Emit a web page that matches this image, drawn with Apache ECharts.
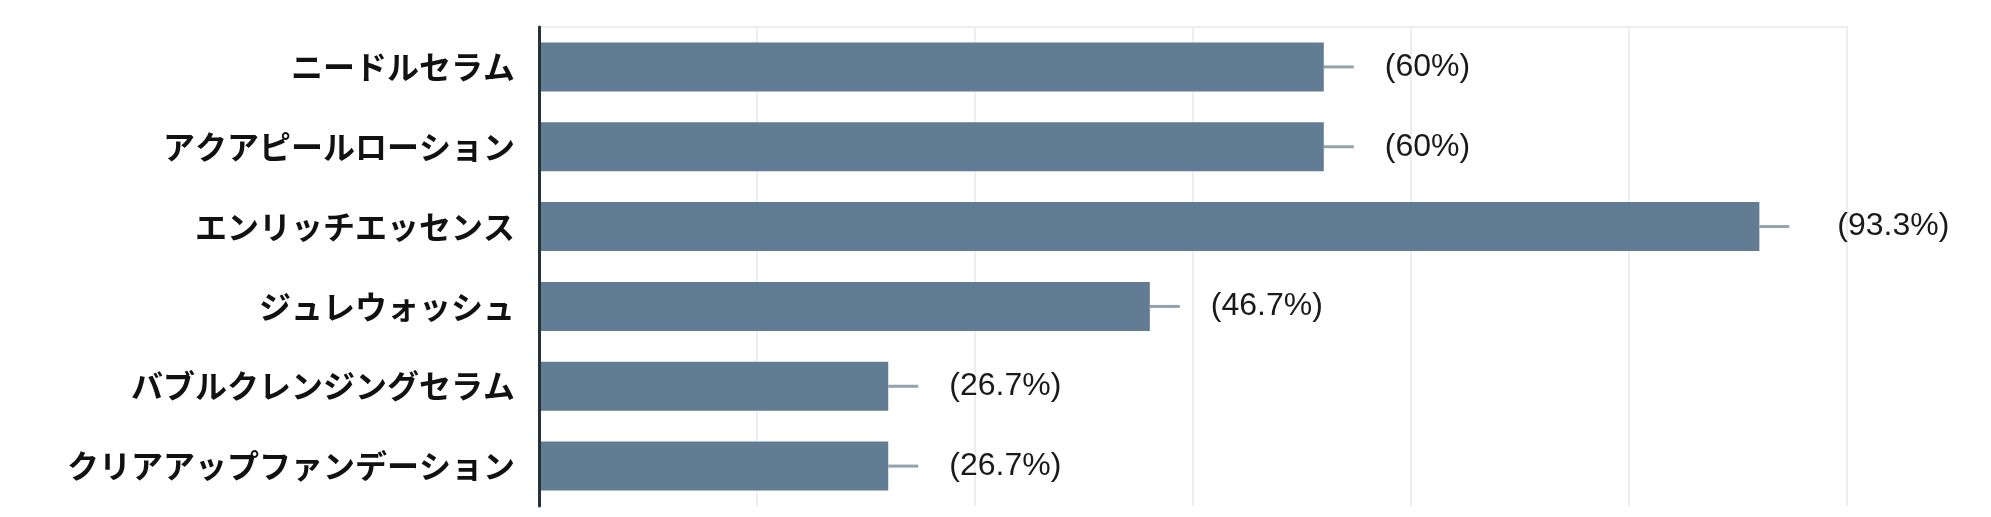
<!DOCTYPE html>
<html>
<head>
<meta charset="utf-8">
<script src="https://cdn.jsdelivr.net/npm/echarts@6/dist/echarts.min.js"></script>
<style>
  html, body { margin: 0; padding: 0; background: #fff; }
  #chart { width: 1991px; height: 517px; }
</style>
</head>
<body>
<div id="chart"></div>
<script>
// 商品カテゴリ（上から順）
const categories = [
  "ニードルセラム",
  "アクアピールローション",
  "エンリッチエッセンス",
  "ジュレウォッシュ",
  "バブルクレンジングセラム",
  "クリアアップファンデーション"
];
// 割合 (%)
const values = [60, 60, 93.3, 46.7, 26.7, 26.7];

const axisMax = 100;
const axisInterval = 100 / 6;

const myChart = echarts.init(document.getElementById("chart"));
myChart.setOption({
  animation: false,
  grid: {
    left: 539,
    right: 144,
    top: 27,
    bottom: 11
  },
  xAxis: {
    type: "value",
    position: "top",
    min: 0,
    max: axisMax,
    interval: axisInterval,
    axisLabel: { show: false },
    axisTick: { show: false },
    axisLine: { show: true, lineStyle: { color: "#eceff1", width: 2 } },
    splitLine: { show: true, lineStyle: { color: "#eceff1", width: 2 } }
  },
  yAxis: {
    type: "category",
    inverse: true,
    data: categories,
    axisTick: { show: false },
    axisLine: { show: true, lineStyle: { color: "#263238", width: 3 } },
    axisLabel: {
      margin: 24,
      fontSize: 32,
      fontWeight: "bold",
      color: "#111",
      fontFamily: "Noto Sans CJK JP"
    },
    z: 5
  },
  series: [
    {
      type: "bar",
      // 一番長いバーのラベルは少し右に離れている
      data: values.map((v) => (v > 90 ? { value: v, label: { distance: 78 } } : v)),
      barCategoryGap: "38.6%",
      itemStyle: { color: "#627d93" },
      label: {
        show: true,
        position: "right",
        distance: 61,
        fontSize: 32,
        color: "#1a1a1a",
        fontFamily: "Liberation Sans",
        formatter: (p) => "(" + p.value + "%)"
      }
    },
    {
      // バー右端の短い線
      type: "custom",
      data: values.map((v, i) => [v, i]),
      encode: { x: 0, y: 1 },
      renderItem: (params, api) => {
        const p = api.coord([api.value(0), api.value(1)]);
        return {
          type: "line",
          shape: { x1: p[0], y1: p[1], x2: p[0] + 30, y2: p[1] },
          style: { stroke: "#90a4ae", lineWidth: 3 }
        };
      },
      z: 3
    }
  ]
});
</script>
</body>
</html>
